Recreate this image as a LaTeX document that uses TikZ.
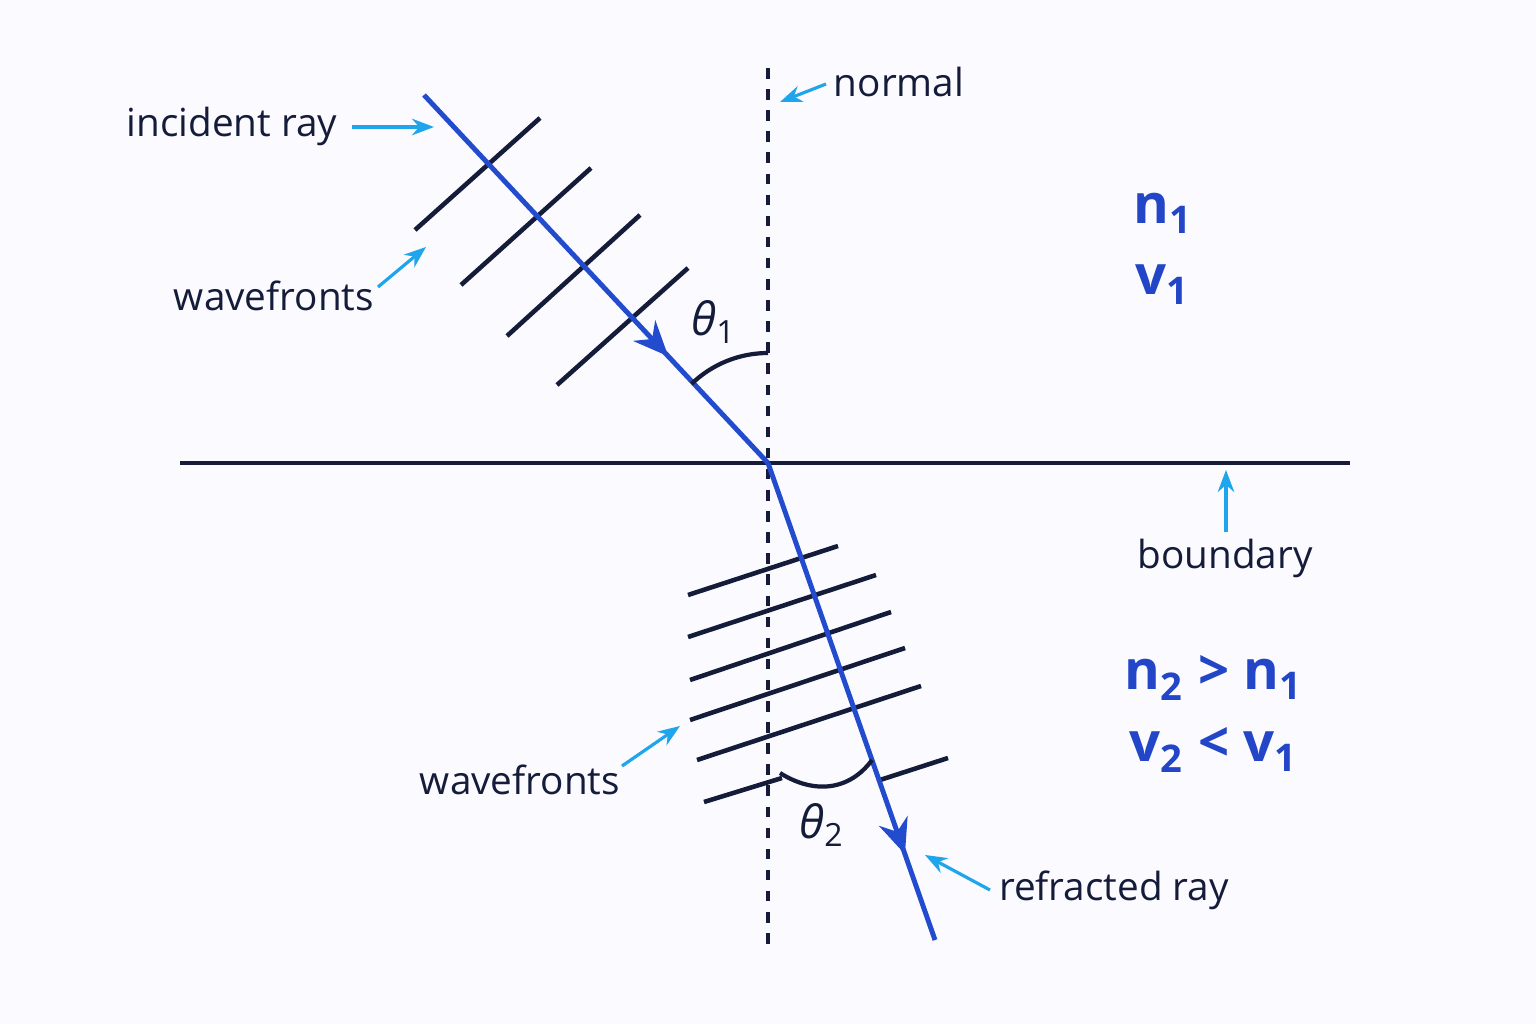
\documentclass[tikz,border=0pt]{standalone}
\usepackage{fontspec}
\setmainfont{Open Sans}
\usetikzlibrary{positioning, arrows.meta, decorations.markings}
\definecolor{raycolor}{RGB}{35,75,205}
\definecolor{notecolor}{RGB}{30,165,235}
\definecolor{inkcolor}{RGB}{20,28,58}
\definecolor{mediumcolor}{RGB}{35,70,200}

\begin{document}
\begin{tikzpicture}[x=0.01cm, y=-0.01cm,
    ray/.style={raycolor, line width=1.4pt},
    front/.style={inkcolor, line width=1.3pt},
    note/.style={-{Stealth[length=2.2mm]}, notecolor, line width=0.9pt},
    label/.style={font=\fontsize{11}{13}\selectfont, text=inkcolor},
    angle/.style={font=\fontsize{13}{15}\selectfont\itshape, text=inkcolor},
    medium/.style={font=\fontsize{15.5}{18}\selectfont\bfseries, text=mediumcolor}]

    \useasboundingbox (0,0) rectangle (1536,1024);
    \fill[white!98!blue] (0,0) rectangle (1536,1024);

    % === GEOMETRY ===
    \coordinate (O) at (768,463);
    \coordinate (src) at (424,95);
    \coordinate (dst) at (935,940);
    \draw[inkcolor, line width=1.3pt] (180,463) -- (1350,463);
    \draw[inkcolor, dashed, line width=1pt] (768,68) -- (768,945);

    % wavefronts medium 1
    \foreach \a/\b/\c/\d in {415/230/540/118, 461/285/591/168, 507/336/640/215, 557/385/688/268}
        \draw[front] (\a,\b) -- (\c,\d);
    % wavefronts medium 2
    \foreach \a/\b/\c/\d in {688/595/838/546, 688/637/876/575, 690/680/891/612, 690/720/905/648, 697/760/921/686}
        \draw[front] (\a,\b) -- (\c,\d);
    \draw[front] (704,802) -- (782,778);
    \draw[front] (880,780) -- (948,758);

    % rays
    \draw[ray, postaction={decorate}, decoration={markings,
        mark=at position 0.71 with {\arrow{Stealth[length=3.5mm, width=3mm]}}}] (src) -- (O);
    \draw[ray, postaction={decorate}, decoration={markings,
        mark=at position 0.82 with {\arrow{Stealth[length=3.5mm, width=3mm]}}}] (O) -- (dst);

    % angles
    \draw[inkcolor, line width=1.2pt] (768,353) arc[start angle=270, end angle=226, radius=110];
    \draw[inkcolor, line width=1.2pt] (780,773) .. controls (815,795) and (850,790) .. (872,760);
    \node[angle] (t1) at (714,322) {θ\textsubscript{\upshape 1}};
    \node[angle] (t2) at (822,825) {θ\textsubscript{\upshape 2}};

    % === LABELS ===
    \node[label] (incident) at (232,126) {incident ray};
    \draw[note] (352,127) -- (434,127);

    \node[label] (normal) at (899,82) {normal};
    \draw[note] (826,84) -- (780,102);

    \node[label] (wave1) at (274,296) {wavefronts};
    \draw[note] (378,287) -- (426,247);

    \node[label] (bound) at (1225,558) {boundary};
    \draw[note] (1226,532) -- (1226,470);

    \node[label] (wave2) at (520,780) {wavefronts};
    \draw[note] (622,766) -- (680,726);

    \node[label] (refr) at (1114,890) {refracted ray};
    \draw[note] (990,890) -- (925,855);

    % media
    \node[medium] (n1) at (1163,213) {n\textsubscript{1}};
    \node[medium] (v1) at (1163,285) {v\textsubscript{1}};
    \node[medium] (n2) at (1214,678) {n\textsubscript{2} > n\textsubscript{1}};
    \node[medium] (v2) at (1214,750) {v\textsubscript{2} < v\textsubscript{1}};
\end{tikzpicture}
\end{document}
